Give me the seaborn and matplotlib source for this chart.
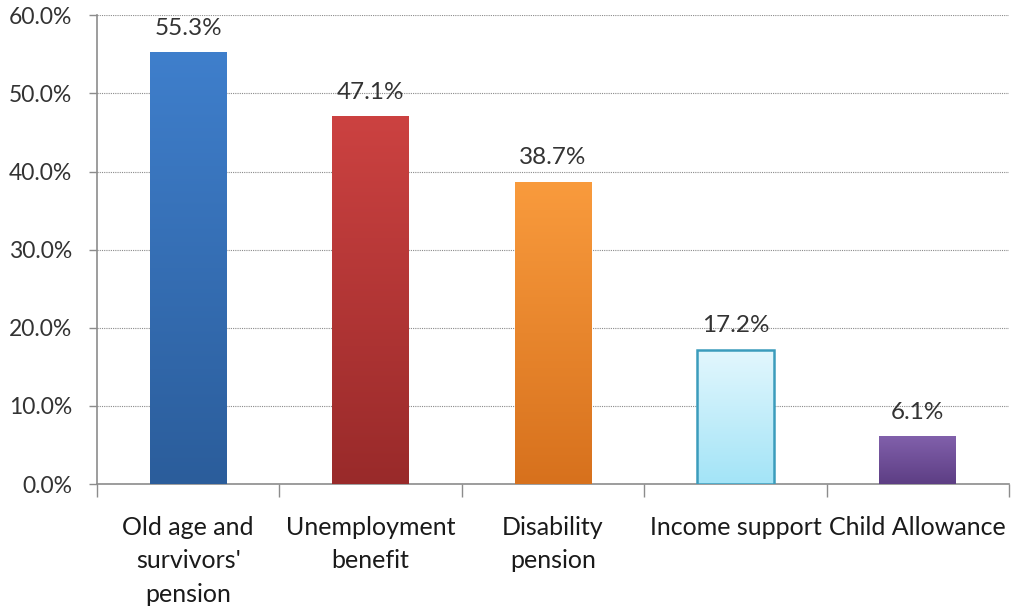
import matplotlib
matplotlib.use("Agg")
import matplotlib.pyplot as plt
import seaborn as sns
import numpy as np
import pandas as pd
from matplotlib.colors import LinearSegmentedColormap
from matplotlib.ticker import FixedLocator

categories = ["Old age and\nsurvivors'\npension", "Unemployment\nbenefit", "Disability\npension",
              "Income support", "Child Allowance"]
values = [55.3, 47.1, 38.7, 17.2, 6.1]
top_colors = ["#3f7fcc", "#cc4241", "#f99b3d", "#e3f7fd", "#8160ab"]
bottom_colors = ["#2b5d9b", "#992a2a", "#d7711d", "#a3e4f7", "#5d3e84"]
edge_colors = [None, None, None, "#3b9cbc", None]
yticks = [0, 10, 20, 30, 40, 50, 60]

sns.set_theme(style="white")
plt.rcParams['font.family'] = ['Lato', 'DejaVu Sans']

fig = plt.figure(figsize=(10.11, 6.12), dpi=100)
ax = fig.add_axes([0.096, 0.209, 0.902, 0.766])

df = pd.DataFrame({"cat": categories, "val": values})
sns.barplot(data=df, x="cat", y="val", hue="cat", palette=top_colors, legend=False,
            width=0.42, ax=ax, saturation=1, zorder=3)

ax.set_ylim(0, 60)
ax.set_xlim(-0.5, len(categories) - 0.5)

for i, p in enumerate(ax.patches):
    x0, y0 = p.get_x(), p.get_y()
    w, h = p.get_width(), p.get_height()
    cmap = LinearSegmentedColormap.from_list("g", [bottom_colors[i], top_colors[i]])
    grad = np.linspace(0, 1, 256).reshape(-1, 1)
    im = ax.imshow(grad, cmap=cmap, aspect="auto", origin="lower",
                   extent=[x0, x0 + w, y0, y0 + h], zorder=3.5)
    im.set_clip_path(p)
    if edge_colors[i]:
        p.set_edgecolor(edge_colors[i])
        p.set_linewidth(1.8)
        p.set_zorder(4)
        p.set_facecolor("none")
    else:
        p.set_edgecolor("none")
    ax.text(x0 + w / 2, y0 + h + 1.7, f"{values[i]:.1f}%", ha="center", va="bottom",
            fontsize=17.5, color="#333333", zorder=5)

ax.set_aspect("auto")
ax.set_yticks(yticks)
ax.set_yticklabels([f"{v:.1f}%" for v in yticks], fontsize=16.5, color="#333333")
ax.set_xticks(range(len(categories)))
ax.set_xticklabels(categories, fontsize=18, color="#1a1a1a", linespacing=1.55, va="top")
ax.tick_params(axis="x", length=0, pad=23)
ax.tick_params(axis="y", length=6, width=1, color="#8c8c8c", direction="out", left=True, pad=12)

ax.xaxis.set_minor_locator(FixedLocator(np.arange(-0.5, len(categories), 1.0)))
ax.tick_params(axis="x", which="minor", length=9, width=1, color="#8c8c8c", direction="out", bottom=True)

ax.set_xlabel("")
ax.set_ylabel("")
ax.yaxis.grid(True, linestyle=(0, (1, 1)), color="#8a8a8a", linewidth=0.8, zorder=0)
ax.xaxis.grid(False)
for s in ["top", "right"]:
    ax.spines[s].set_visible(False)
for s in ["left", "bottom"]:
    ax.spines[s].set_color("#8c8c8c")
    ax.spines[s].set_linewidth(1.2)
ax.set_axisbelow(True)

fig.savefig("out.png", dpi=100, facecolor="white")
